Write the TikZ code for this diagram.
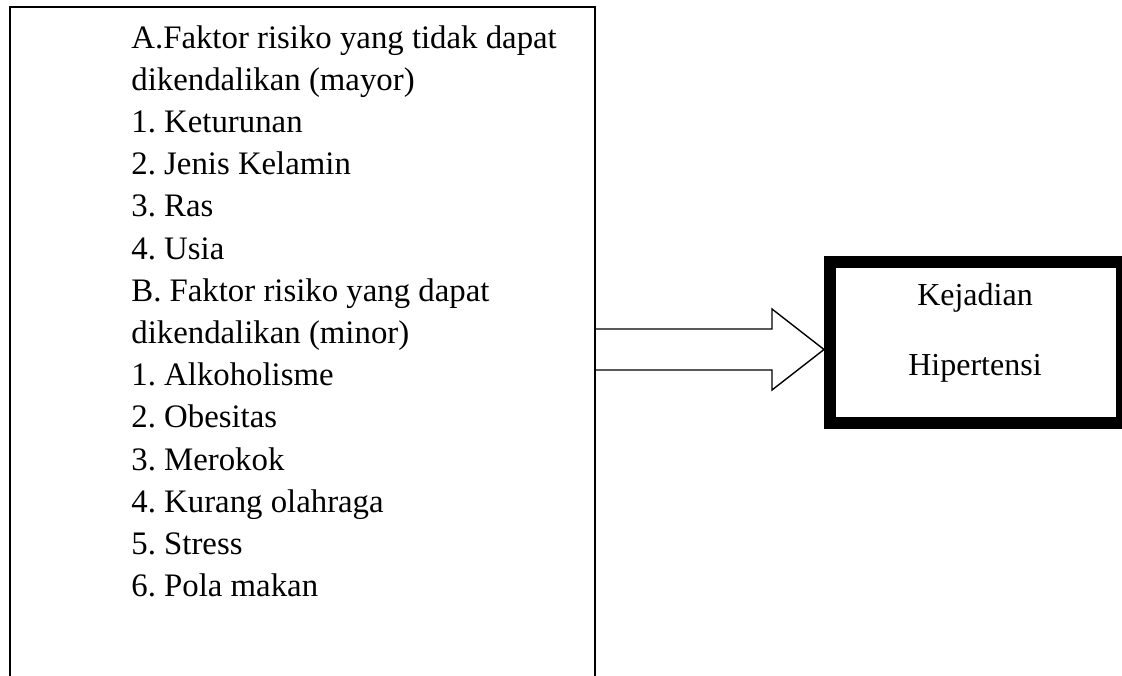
\documentclass[tikz,border=0pt]{standalone}
\usepackage{fontspec}
\setmainfont{Liberation Serif}
\frenchspacing
\begin{document}
\begin{tikzpicture}[x=0.5pt,y=-0.5pt,
  factorbox/.style={draw, line width=1pt, outer sep=0pt, inner sep=0pt,
    minimum width=292.5pt, minimum height=350pt, anchor=north west},
  itemtext/.style={font=\fontsize{16.4pt}{19pt}\selectfont, inner sep=0pt, anchor=base west},
  outcomebox/.style={draw, line width=6pt, inner sep=0pt,
    minimum width=146pt, minimum height=80.75pt},
  outcometext/.style={font=\fontsize{16pt}{19pt}\selectfont, inner sep=0pt, anchor=base},
  blockarrow/.style={draw, line width=0.7pt, line join=miter}]
  \useasboundingbox (0,0) rectangle (1122,675);
  \fill[white] (0,0) rectangle (1122,675);

  % risk factor panel (runs past the lower edge)
  \node[factorbox] (risk) at (10,7) {};
  \foreach \t [count=\i] in {
      A.Faktor risiko yang tidak dapat,
      dikendalikan (mayor),
      1. Keturunan,
      2. Jenis Kelamin,
      3. Ras,
      4. Usia,
      B. Faktor risiko yang dapat,
      dikendalikan (minor),
      1. Alkoholisme,
      2. Obesitas,
      3. Merokok,
      4. Kurang olahraga,
      5. Stress,
      6. Pola makan}
    \node[itemtext] (l\i) at (131,{48+42.2*(\i-1)}) {\frenchspacing\t};

  % outcome box
  \node[outcomebox] (hyp) at (976,342.25) {};
  \node[outcometext] (kej) at (975,305) {Kejadian};
  \node[outcometext] (hip) at (975,375) {Hipertensi};

  % block arrow from the panel to the outcome
  \coordinate (tip) at (hyp.west |- 0,349.5);
  \draw[blockarrow] (risk.east |- 0,329) -- (772,329) -- (772,309)
    -- (tip) -- (772,390) -- (772,370) -- (risk.east |- 0,370);
\end{tikzpicture}
\end{document}
